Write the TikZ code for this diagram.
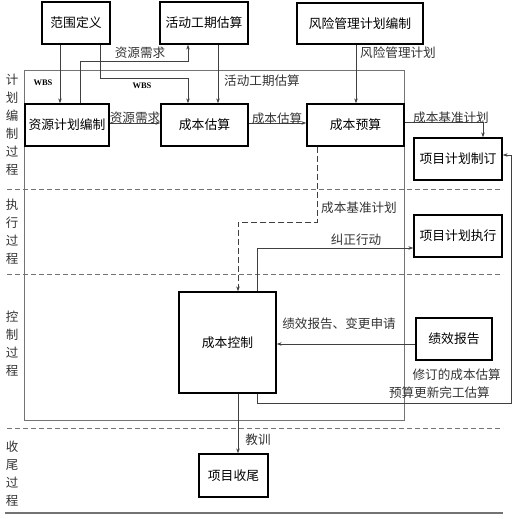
\documentclass[tikz,border=0pt]{standalone}
\usepackage{fontspec}
\setmainfont{Noto Sans CJK SC}
\newfontfamily\wbsfont{Liberation Serif}
\usetikzlibrary{arrows.meta}
\definecolor{linegray}{gray}{0.25}
\definecolor{framegray}{gray}{0.45}
\tikzset{
  box/.style={draw=black, line width=1.3pt, fill=white, inner sep=0pt, font=\fontsize{12.8}{14}\selectfont},
  arr/.style={draw=linegray, line width=0.7pt, -{Stealth[length=5pt,width=3.5pt]}},
  lbl/.style={inner sep=0pt, font=\fontsize{12.6}{14}\selectfont, text=black!80},
  wbs/.style={inner sep=0pt, font=\wbsfont\bfseries\fontsize{8.5}{10}\selectfont},
  divider/.style={draw=framegray, line width=0.8pt, dash pattern=on 5pt off 3pt},
  side/.style={inner sep=0pt, align=center, font=\fontsize{12.5}{18}\selectfont, text=black!80},
  frame/.style={draw=framegray, line width=0.8pt}
}
\begin{document}
\begin{tikzpicture}[x=1pt,y=-1pt]
\useasboundingbox (0,0) rectangle (514,519);
% process dividers
\draw[divider] (7,189) -- (503,189);
\draw[divider] (7,274) -- (503,274);
\draw[divider] (7,428) -- (503,428);
\draw[frame, line width=1.2pt] (5,513) -- (503,513);
% container
\draw[frame] (24,70) rectangle (404,420);
% side labels
\node[side] (s1) at (12,125) {计\\划\\编\\制\\过\\程};
\node[side] (s2) at (12,232) {执\\行\\过\\程};
\node[side] (s3) at (12,344) {控\\制\\过\\程};
\node[side] (s4) at (12,473.5) {收\\尾\\过\\程};
% boxes
\node[box, minimum width=68pt, minimum height=42pt] (fw) at (76,23) {范围定义};
\node[box, minimum width=88pt, minimum height=42pt] (hd) at (204,23) {活动工期估算};
\node[box, minimum width=126pt, minimum height=41pt] (fx) at (360,23.5) {风险管理计划编制};
\node[box, minimum width=84pt, minimum height=42pt] (zy) at (67,125) {资源计划编制};
\node[box, minimum width=87pt, minimum height=42pt] (cg) at (204.5,125) {成本估算};
\node[box, minimum width=97pt, minimum height=42pt] (cy) at (355.5,125) {成本预算};
\node[box, minimum width=88pt, minimum height=42pt] (jh) at (458,159) {项目计划制订};
\node[box, minimum width=88pt, minimum height=42pt] (zx) at (458,236) {项目计划执行};
\node[box, minimum width=76pt, minimum height=42pt] (jx) at (454,339) {绩效报告};
\node[box, minimum width=97pt, minimum height=101pt] (kz) at (227.5,342.5) {成本控制};
\node[box, minimum width=69pt, minimum height=43pt] (sw) at (233.5,475.5) {项目收尾};
% bend coordinates
\coordinate (w2) at (188,78);
\coordinate (r1) at (188,61);
\coordinate (b1) at (483,128);
\coordinate (d2) at (238,222);
\coordinate (c1) at (257,248);
\coordinate (f1) at (511,403);
% connectors
\draw[arr] ([xshift=-16pt]fw.south) -- ([xshift=-16pt]fw.south |- zy.north);
\node[wbs] (l1) at (43,83) {WBS};
\draw[arr] ([xshift=24pt]fw.south) |- (w2) -- (w2 |- cg.north);
\node[wbs] (l2) at (142,86) {WBS};
\draw[arr] ([xshift=13pt]zy.north) |- (r1) -- (r1 |- hd.south);
\node[lbl] (l3) at (140,53) {资源需求};
\draw[arr] ([xshift=14pt]hd.south) -- ([xshift=14pt]hd.south |- cg.north);
\node[lbl, anchor=west] (l4) at (224,81) {活动工期估算};
\draw[arr] ([yshift=2pt]zy.east) -- ([yshift=2pt]zy.east -| cg.west);
\node[lbl] (l5) at (135,118) {资源需求};
\draw[arr] ([yshift=2pt]cg.east) -- ([yshift=2pt]cg.east -| cy.west);
\node[lbl] (l6) at (277,119) {成本估算};
\draw[arr] ([xshift=-4pt]fx.south) -- ([xshift=-4pt]fx.south |- cy.north);
\node[lbl, anchor=west] (l7) at (360,53) {风险管理计划};
\draw[arr] ([yshift=3pt]cy.east) -| (jh.north -| b1);
\node[lbl] (l8) at (451,118) {成本基准计划};
\draw[arr, dash pattern=on 6pt off 3pt] ([xshift=-38.5pt]cy.south) |- (d2) -- (d2 |- kz.north);
\node[lbl, anchor=west] (l9) at (321,208) {成本基准计划};
\draw[arr] ([xshift=29.5pt]kz.north) |- (zx.west |- c1);
\node[lbl] (l10) at (356,240) {纠正行动};
\draw[arr] ([yshift=-5pt]jx.west) -- ([yshift=-5pt]jx.west -| kz.east);
\node[lbl] (l11) at (339,324) {绩效报告、变更申请};
\draw[arr] ([xshift=29.5pt]kz.south) |- (f1) |- ([yshift=4pt]jh.east);
\node[lbl, anchor=east] (l12) at (501,375) {修订的成本估算};
\node[lbl, anchor=east] (l13) at (490,393) {预算更新完工估算};
\draw[arr] ([xshift=10.5pt]kz.south) -- ([xshift=10.5pt]kz.south |- sw.north);
\node[lbl] (l14) at (258,440) {教训};
\end{tikzpicture}
\end{document}
